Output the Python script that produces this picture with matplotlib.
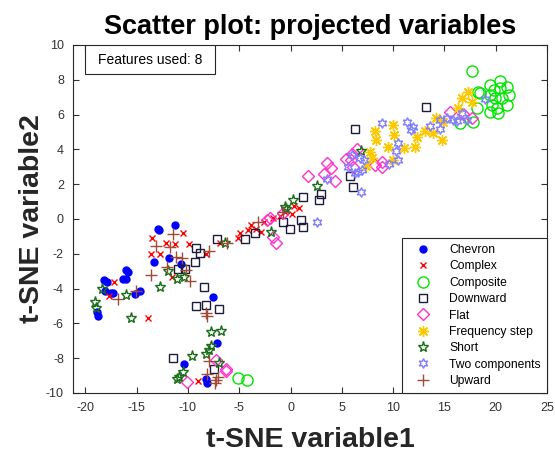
import matplotlib.pyplot as plt
from matplotlib.patches import Rectangle

plt.rcParams['font.family'] = ['Liberation Sans', 'DejaVu Sans']
plt.rcParams['axes.unicode_minus'] = False

# t-SNE projection
chevron_x = [-12.93, -12.77, -11.23, -13.35, -11.88, -10.7, -16.0, -15.86, -16.35, -16.0, -18.13, -17.9,
             -18.04, -17.48, -17.32, -15.2, -14.7, -18.9, -18.8, -7.55, -7.13, -10.39, -8.2, -8.14]
chevron_y = [-0.57, -0.63, -0.34, -2.49, -2.26, -2.6, -2.93, -3.02, -3.44, -3.44, -3.5, -3.6,
             -4.12, -4.23, -4.27, -4.3, -4.15, -5.32, -5.6, -4.5, -7.1, -8.32, -9.2, -9.43]

complex_x = [-13.48, -12.11, -11.3, -10.49, -9.9, -13.64, -12.7, -17.16, -17.71, -11.56, -13.9, -8.23,
             -9.02, -6.9, -5.12, -4.95, -4.14, -3.81, -3.32, -2.83, -2.61, -1.7, -1.04, -0.56, 0.1, 0.32, 0.84]
complex_y = [-1.11, -1.4, -1.45, -0.78, -1.45, -2.03, -2.03, -3.6, -4.42, -3.31, -5.67, -2.03,
             -9.34, -1.36, -1.11, -0.78, -0.63, -0.34, -0.59, -0.73, -0.15, 0.04, 0.17, 0.42, 0.29, 0.75, 0.61]

composite_x = [17.73, 18.32, 18.49, 18.16, 17.83, 16.53, 19.46, 20.37, 21.09, 19.79, 20.44, 21.25, 19.46,
               19.95, 20.6, 21.09, 19.63, 20.11, 19.46, 20.27, -5.12, -4.2]
composite_y = [8.51, 7.31, 7.22, 6.35, 5.59, 5.49, 7.69, 7.94, 7.6, 7.41, 7.5, 7.12, 7.12,
               6.93, 6.93, 6.54, 6.54, 6.35, 6.16, 6.07, -9.15, -9.24]

downward_x = [-9.17, -8.78, -9.27, -10.99, -10.24, -8.39, -9.2, -8.25, -7.0, -11.45, -7.5, -7.2, -4.4,
              -3.45, -0.7, -0.07, 1.0, 1.25, 1.2, 2.8, 3.0, 13.21, 6.28, 5.79, 6.05]
downward_y = [-1.69, -1.94, -2.46, -2.88, -2.88, -3.9, -5.0, -4.93, -5.18, -8.0, -8.64, -1.17, -1.13,
              -0.79, -0.18, -0.6, -0.08, -0.46, 1.28, 1.07, 1.42, 6.45, 5.15, 2.47, 1.84]

flat_x = [-10.12, -7.28, -6.33, -6.24, -1.44, -1.7, -2.28, -2.0, -0.72, 1.72, 3.57, 3.9, 3.3, 4.35,
          5.4, 5.9, 6.0, 6.5, 6.11, 8.23, 8.89, 8.95, 15.5, 16.8, 17.7]
flat_y = [-9.36, -8.08, -8.6, -8.75, -1.4, -1.05, -0.06, 0.08, 0.36, 2.45, 3.22, 2.94, 2.58, 2.2,
          3.45, 3.38, 3.75, 4.0, 3.0, 3.1, 3.25, 2.98, 6.16, 6.02, 5.8]

freq_x = [17.34, 16.7, 17.68, 16.37, 14.2, 14.9, 14.75, 13.93, 13.12, 12.3, 12.14, 11.05, 9.53, 9.95,
          10.05, 8.23, 8.37, 7.7, 7.9, 7.4, 9.95]
freq_y = [7.27, 6.93, 6.73, 6.35, 5.78, 5.59, 4.56, 4.92, 5.07, 4.73, 4.13, 4.1, 4.14, 5.4,
          4.82, 5.05, 4.52, 3.83, 3.48, 3.02, 3.39]

short_x = [-18.4, -19.01, -18.95, -16.08, -12.76, -15.5, -11.95, -11.07, -10.42, -7.78, -6.74, -7.71,
           -7.95, -8.2, -9.57, -6.97, -10.49, -10.88, -11.07, -6.42, -1.86, -0.56, -0.4, 0.2, 2.6, 6.87]
short_y = [-4.02, -4.75, -5.13, -4.36, -3.92, -5.67, -2.99, -3.44, -3.31, -6.47, -6.41, -7.29,
           -7.52, -7.77, -7.85, -8.25, -8.77, -9.09, -9.2, -1.4, -0.73, 0.71, 0.6, 1.09, 1.87, 3.92]

two_x = [8.9, 11.39, 11.97, 11.7, 13.64, 14.58, 14.58, 15.23, 15.88, 16.76, 17.19, 18.97, 10.51, 10.25,
         9.63, 10.51, 6.8, 7.12, 6.6, 6.28, 6.93, 6.84, 5.63, 5.96, 2.6, 3.52, 16.2]
two_y = [5.49, 5.59, 5.26, 5.09, 5.37, 5.68, 5.2, 5.78, 5.68, 6.07, 5.68, 6.87, 4.35, 3.88,
         3.18, 3.37, 3.51, 3.41, 2.72, 2.62, 2.81, 1.57, 3.0, 3.67, -0.17, 2.3, 5.62]

upward_x = [-13.15, -11.46, -11.79, -11.13, -10.55, -13.64, -12.05, -9.77, -16.84, -15.04, -10.22, -7.97,
            -8.27, -8.14, -7.95, -8.14, -7.23, -7.07, -7.39, -6.19, -3.16, -0.72]
upward_y = [-1.55, -0.88, -1.59, -2.16, -2.26, -3.21, -2.77, -3.56, -4.61, -4.12, -2.93, -1.82,
            -5.38, -5.57, -8.19, -8.9, -9.24, -9.09, -9.43, -1.36, -0.15, 0.42]

# label, x, y, colour, marker, size, filled
groups = [
    ("Chevron", chevron_x, chevron_y, "#0000ff", "o", 5, True),
    ("Complex", complex_x, complex_y, "#ff0000", "x", 5, False),
    ("Composite", composite_x, composite_y, "#00e600", "o", 8, False),
    ("Downward", downward_x, downward_y, "#1c1c3c", "s", 6, False),
    ("Flat", flat_x, flat_y, "#ff33cc", "D", 6.5, False),
    ("Frequency step", freq_x, freq_y, "#ffc800", (8, 2, 0), 8, False),
    ("Short", short_x, short_y, "#1a6e1a", "*", 8, False),
    ("Two components", two_x, two_y, "#8080ff", (6, 1, 0), 7, False),
    ("Upward", upward_x, upward_y, "#a04a3a", "+", 8, False),
]

fig = plt.figure(figsize=(5.55, 4.54), dpi=100)
ax = fig.add_axes([0.1315, 0.1344, 0.8541, 0.7665])

for label, xs, ys, col, mk, ms, filled in groups:
    ax.plot(xs, ys, linestyle="none", marker=mk, markersize=ms, markeredgewidth=1.0,
            color=col, markerfacecolor=col if filled else "none", label=label)

ax.set_xlim(-21.2, 25)
ax.set_ylim(-10, 10)
ax.set_xticks(range(-20, 26, 5))
ax.set_yticks(range(-10, 11, 2))
ax.tick_params(direction="in", top=True, right=True, labelsize=9, colors="#333333",
               length=4, width=0.8, pad=6.5)
for s in ax.spines.values():
    s.set_color("#262626")
    s.set_linewidth(0.8)

ax.set_title("Scatter plot: projected variables", fontsize=19.5, fontweight="bold", pad=8)
ax.set_xlabel("t-SNE variable1", fontsize=20.5, fontweight="bold", color="#262626", labelpad=9)
ax.set_ylabel("t-SNE variable2", fontsize=20.5, fontweight="bold", color="#262626", labelpad=1)

leg = ax.legend(loc="lower right", borderaxespad=0, fontsize=8.7, fancybox=False,
                framealpha=1, edgecolor="#262626", handlelength=2.4, handletextpad=1.0,
                labelspacing=0.36, borderpad=0.5)
leg.get_frame().set_linewidth(0.8)

# "Features used" annotation box, flush with the top of the axes
ax.add_patch(Rectangle((0.0253, 0.9167), 0.274, 0.0833, transform=ax.transAxes,
                       facecolor="white", edgecolor="#262626", linewidth=0.8, zorder=5))
ax.text(0.1624, 0.958, "Features used: 8", transform=ax.transAxes, fontsize=10,
        va="center", ha="center", zorder=6)

fig.savefig("out.png", dpi=100)
